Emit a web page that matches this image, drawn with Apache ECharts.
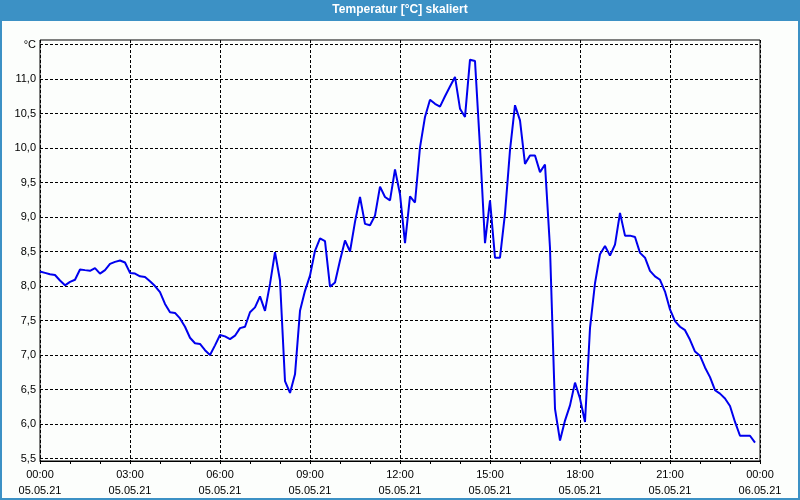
<!DOCTYPE html>
<html>
<head>
<meta charset="utf-8">
<script src="https://cdn.jsdelivr.net/npm/echarts@6/dist/echarts.min.js"></script>
<style>
html,body{margin:0;padding:0;background:#fcfefc;}
#chart{width:800px;height:500px;}
</style>
</head>
<body>
<div id="chart"></div>
<script>
const titleText = 'Temperatur [°C] skaliert';
const dates = ['05.05.21', '06.05.21'];
const sampleMinutes = 10;
const yTicks = [5.5, 6.0, 6.5, 7.0, 7.5, 8.0, 8.5, 9.0, 9.5, 10.0, 10.5, 11.0, 11.5];
const unitLabel = '°C';
const temps = [
  8.21, 8.19, 8.17, 8.16, 8.08, 8.01, 8.06, 8.09, 8.24, 8.23, 8.22, 8.26,
  8.18, 8.23, 8.32, 8.35, 8.37, 8.34, 8.19, 8.18, 8.14, 8.13, 8.07, 8.00,
  7.91, 7.74, 7.62, 7.61, 7.53, 7.41, 7.25, 7.17, 7.16, 7.07, 7.00, 7.14,
  7.29, 7.27, 7.23, 7.28, 7.39, 7.41, 7.62, 7.69, 7.85, 7.64, 8.03, 8.49,
  8.08, 6.62, 6.45, 6.72, 7.64, 7.93, 8.15, 8.51, 8.69, 8.65, 7.99, 8.05,
  8.37, 8.66, 8.50, 8.93, 9.29, 8.90, 8.88, 9.02, 9.44, 9.29, 9.24, 9.69,
  9.33, 8.62, 9.30, 9.21, 10.01, 10.45, 10.70, 10.64, 10.60, 10.75, 10.89, 11.03,
  10.57, 10.45, 11.28, 11.26, 10.01, 8.62, 9.24, 8.41, 8.41, 9.05, 9.97, 10.62,
  10.40, 9.77, 9.89, 9.89, 9.65, 9.76, 8.55, 6.22, 5.76, 6.05, 6.27, 6.60,
  6.37, 6.03, 7.39, 8.04, 8.46, 8.58, 8.44, 8.60, 9.06, 8.73, 8.73, 8.71,
  8.48, 8.41, 8.22, 8.14, 8.09, 7.92, 7.66, 7.49, 7.41, 7.36, 7.22, 7.05,
  6.99, 6.82, 6.68, 6.49, 6.44, 6.37, 6.26, 6.03, 5.83, 5.83, 5.83, 5.73
];
const times = temps.map((_, i) => i * sampleMinutes);

const chart = echarts.init(document.getElementById('chart'), null, {renderer: 'canvas'});
const font = 'Liberation Sans, Arial, sans-serif';
function pad(n){ return (n < 10 ? '0' : '') + n; }
chart.setOption({
  animation: false,
  backgroundColor: '#fcfefc',
  title: {
    text: titleText,
    left: 'center',
    top: 3,
    padding: 0,
    textStyle: {color: '#ffffff', fontFamily: font, fontSize: 12, fontWeight: 'bold', lineHeight: 14}
  },
  graphic: [
    {type: 'rect', z: -1, shape: {x: 0, y: 0, width: 800, height: 21}, style: {fill: '#3c91c5'}},
    {type: 'rect', z: -1, shape: {x: 1, y: 0, width: 798, height: 499}, style: {fill: 'none', stroke: '#3c91c5', lineWidth: 2}}
  ],
  grid: {
    left: 40, right: 40, top: 40, bottom: 39,
    show: true, borderColor: '#000', borderWidth: 1, backgroundColor: 'transparent',
    containLabel: false
  },
  xAxis: {
    type: 'value', min: 0, max: 1440, interval: 180,
    axisLine: {show: true, lineStyle: {color: '#000', width: 1}},
    axisTick: {show: true, length: 3, lineStyle: {color: '#000'}},
    minorTick: {show: true, splitNumber: 3, length: 3, lineStyle: {color: '#000'}},
    splitLine: {show: true, lineStyle: {color: '#000', type: [3, 2], width: 1}},
    axisLabel: {
      color: '#000', fontFamily: font, fontSize: 11, lineHeight: 16, margin: 6,
      formatter: function (v) {
        const d = Math.floor(v / 1440);
        const m = v % 1440;
        return pad(Math.floor(m / 60)) + ':' + pad(m % 60) + '\n' + dates[d];
      }
    }
  },
  yAxis: {
    type: 'value', min: 5.464, max: 11.565,
    axisLine: {show: false},
    axisTick: {show: false, customValues: yTicks},
    splitLine: {show: true, lineStyle: {color: '#000', type: [3, 2], width: 1}},
    axisLabel: {
      customValues: yTicks,
      color: '#000', fontFamily: font, fontSize: 11, margin: 4,
      formatter: function (v) {
        if (Math.abs(v - 11.5) < 1e-6) return unitLabel;
        return v.toFixed(1).replace('.', ',');
      }
    }
  },
  series: [{
    type: 'line',
    data: times.map((t, i) => [t, temps[i]]),
    showSymbol: false,
    lineStyle: {color: '#0000ee', width: 2},
    itemStyle: {color: '#0000ee'}
  }]
});
</script>
</body>
</html>
